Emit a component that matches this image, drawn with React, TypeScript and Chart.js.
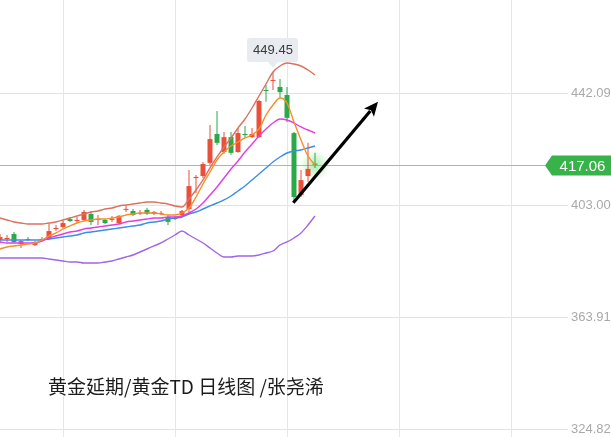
import React, { useEffect, useRef } from "react";
import { Chart, registerables } from "chart.js";

Chart.register(...registerables);

// ---- Candles (daily) ----
const opens = [390.8, 391.1, 392.9, 389.4, 391.1, 389.0, 391.1, 391.1, 394.6, 395.3,
  398.1, 397.4, 397.8, 399.9, 397.8, 397.8, 397.8, 396.7, 401.3, 400.9,
  399.9, 401.3, 399.9, 399.9, 398.8, 398.1, 399.5, 401.6, 412.4, 413.1,
  417.7, 427.8, 421.5, 426.7, 421.5, 427.8, 426.7, 426.7, 443.1, 446.3,
  444.2, 441.4, 428.1, 406.5, 413.1, 417.4];
const highs = [392.9, 392.5, 393.6, 390.8, 391.8, 390.4, 391.8, 396.4, 396.0, 397.4,
  398.8, 398.8, 401.3, 400.9, 399.5, 398.1, 399.2, 399.5, 402.7, 401.6,
  401.3, 402.0, 400.9, 400.9, 399.5, 399.2, 401.3, 415.2, 413.5, 418.0,
  430.9, 435.8, 428.5, 428.5, 429.9, 430.6, 429.9, 439.7, 444.9, 449.45,
  447.0, 444.2, 428.5, 415.2, 424.7, 421.2];
const lows = [390.1, 390.1, 389.7, 388.0, 390.4, 388.7, 390.4, 390.8, 393.9, 395.0,
  397.1, 396.7, 397.4, 396.0, 396.0, 396.4, 397.1, 396.4, 400.6, 399.2,
  399.5, 399.5, 399.5, 399.5, 396.0, 397.8, 399.2, 400.2, 407.2, 412.4,
  417.0, 423.9, 420.8, 420.5, 421.2, 426.4, 426.4, 426.4, 439.0, 443.1,
  440.4, 432.0, 404.05, 405.8, 411.0, 415.9];
const closes = [391.8, 391.5, 390.1, 390.4, 390.8, 390.1, 390.8, 393.9, 395.0, 396.7,
  397.4, 397.8, 400.6, 397.1, 398.1, 396.7, 398.1, 399.2, 401.6, 399.5,
  400.2, 399.9, 400.6, 400.2, 397.1, 398.5, 400.9, 409.6, 412.8, 417.3,
  426.0, 424.7, 426.7, 421.2, 428.1, 427.4, 427.8, 439.3, 442.8, 446.6,
  442.4, 433.4, 405.8, 411.7, 415.6, 417.06];

// ---- Indicator lines ----
const ma5 = [387.65, 388.35, 388.70, 389.04, 389.39, 389.74, 390.79, 392.19, 393.23, 394.63,
  395.68, 396.72, 397.42, 397.77, 398.12, 398.12, 398.47, 398.82, 399.51, 399.86,
  400.21, 400.21, 400.21, 399.86, 399.51, 399.51, 400.21, 401.96, 405.80, 410.33,
  414.52, 418.71, 421.50, 423.60, 424.99, 426.39, 427.43, 429.53, 434.42, 437.90,
  440.35, 438.60, 431.97, 425.69, 420.11, 416.96];
const ma10 = [390.09, 389.74, 389.74, 389.74, 389.74, 389.74, 390.44, 391.49, 392.19, 392.88,
  393.58, 393.93, 394.63, 394.98, 395.33, 395.68, 396.02, 396.37, 397.07, 397.42,
  397.77, 398.12, 398.47, 398.47, 398.82, 398.82, 399.17, 400.21, 401.61, 403.70,
  406.49, 409.29, 412.43, 415.57, 418.36, 421.50, 424.29, 427.09, 429.53, 431.62,
  433.02, 432.67, 431.62, 430.23, 429.18, 428.13];
const ma20 = [390.79, 390.79, 390.79, 390.79, 390.79, 390.79, 390.79, 391.14, 391.49, 391.84,
  392.19, 392.53, 393.23, 393.58, 393.93, 394.28, 394.63, 394.98, 395.33, 395.68,
  396.02, 396.72, 397.07, 397.42, 398.12, 398.47, 398.82, 399.86, 400.56, 401.61,
  402.66, 403.70, 404.75, 406.15, 407.89, 409.64, 411.73, 413.82, 415.92, 418.01,
  419.76, 421.15, 421.85, 422.20, 422.90, 423.60];
const bollUpper = [398.47, 397.77, 397.07, 396.72, 396.37, 396.37, 396.37, 396.72, 397.07, 397.77,
  398.47, 399.17, 399.86, 400.56, 400.91, 401.61, 401.96, 402.66, 403.00, 403.35,
  403.70, 404.05, 404.05, 403.70, 403.35, 402.66, 402.31, 405.10, 408.24, 411.73,
  415.92, 419.76, 423.25, 426.39, 429.88, 433.02, 436.86, 441.05, 445.23, 449.42,
  451.52, 452.56, 452.21, 451.52, 450.12, 448.38];
const bollLower = [384.51, 384.51, 384.51, 384.51, 384.51, 384.51, 384.51, 384.16, 383.81, 383.46,
  383.11, 383.11, 382.76, 382.76, 382.76, 383.11, 383.46, 384.16, 384.86, 385.56,
  386.60, 387.65, 388.70, 389.74, 391.14, 392.53, 393.93, 392.53, 391.14, 389.74,
  388.00, 386.25, 384.86, 384.86, 385.21, 385.21, 385.21, 385.56, 386.25, 386.95,
  389.04, 390.09, 391.49, 393.23, 396.02, 399.17];

// ---- Axes / annotations ----
const yTickValues = [324.82, 363.91, 403.0, 442.09];
const xGridIndices = [9, 25, 41, 57, 73];
const yRange = [322.03, 474.55];
const arrowStart = [41.9, 403.8];
const arrowEnd = [54.0, 439.0];
const titleText = "黄金延期/黄金TD 日线图 /张尧浠";

const UP = "#e8503a";
const DOWN = "#2ba84a";
const W = 611;
const H = 437;
const AXIS_W = 43;
const PX_PER_BAR = 7;

export default function App() {
  const ref = useRef<HTMLCanvasElement>(null);

  useEffect(() => {
    if (!ref.current) return;
    const idx = closes.map((_, i) => i);
    const colors = closes.map((c, i) => (c >= opens[i] ? UP : DOWN));

    const line = (vals: number[], color: string) => ({
      type: "line" as const,
      data: vals.map((v, i) => ({ x: i, y: v })),
      borderColor: color,
      borderWidth: 1.4,
      pointRadius: 0,
      cubicInterpolationMode: "monotone" as const,
      fill: false,
      order: 0,
    });

    const overlay = {
      id: "overlay",
      beforeDatasetsDraw(chart: any) {
        const { ctx, chartArea, scales } = chart;
        const x = scales.x, y = scales.y;
        const last = closes.length - 1;
        const py = Math.round(y.getPixelForValue(closes[last])) + 0.5;
        ctx.save();
        ctx.strokeStyle = "#86d186";
        ctx.lineWidth = 1;
        ctx.beginPath();
        ctx.moveTo(chartArea.left, py);
        ctx.lineTo(W - 66, py);
        ctx.stroke();
        const gx = x.getPixelForValue(last);
        const g = ctx.createRadialGradient(gx, py, 0, gx, py, 15);
        g.addColorStop(0, "rgba(90,220,90,0.5)");
        g.addColorStop(1, "rgba(90,220,90,0)");
        ctx.fillStyle = g;
        ctx.beginPath();
        ctx.arc(gx, py, 15, 0, Math.PI * 2);
        ctx.fill();
        ctx.restore();
      },
      afterDraw(chart: any) {
        const { ctx, scales } = chart;
        const x = scales.x, y = scales.y;
        const last = closes.length - 1;
        ctx.save();
        // price tag
        const py = Math.round(y.getPixelForValue(closes[last])) + 0.5;
        const tl = W - 66;
        const th = 20;
        ctx.fillStyle = "#37b34a";
        ctx.beginPath();
        ctx.moveTo(tl, py);
        ctx.lineTo(tl + 7, py - th / 2);
        ctx.lineTo(W, py - th / 2);
        ctx.lineTo(W, py + th / 2);
        ctx.lineTo(tl + 7, py + th / 2);
        ctx.closePath();
        ctx.fill();
        ctx.fillStyle = "#ffffff";
        ctx.font = '15px "Liberation Sans", Arial, sans-serif';
        ctx.textAlign = "center";
        ctx.textBaseline = "middle";
        ctx.fillText(closes[last].toFixed(2), (tl + 7 + W) / 2 + 1, py + 1);

        // high label
        const hi = Math.max(...highs);
        const hiIdx = highs.indexOf(hi);
        const hx = x.getPixelForValue(hiIdx);
        const hy = y.getPixelForValue(hi);
        const bw = 51, bh = 24;
        const bx = hx - bw / 2 - 0.5;
        const bb = hy - 10;
        const bt = bb - bh;
        ctx.fillStyle = "#e8ecf0";
        ctx.beginPath();
        const r = 3;
        ctx.moveTo(bx + r, bt);
        ctx.lineTo(bx + bw - r, bt);
        ctx.quadraticCurveTo(bx + bw, bt, bx + bw, bt + r);
        ctx.lineTo(bx + bw, bb - r);
        ctx.quadraticCurveTo(bx + bw, bb, bx + bw - r, bb);
        ctx.lineTo(hx + 5, bb);
        ctx.lineTo(hx, hy - 4);
        ctx.lineTo(hx - 5, bb);
        ctx.lineTo(bx + r, bb);
        ctx.quadraticCurveTo(bx, bb, bx, bb - r);
        ctx.lineTo(bx, bt + r);
        ctx.quadraticCurveTo(bx, bt, bx + r, bt);
        ctx.closePath();
        ctx.fill();
        ctx.fillStyle = "#3a3a3a";
        ctx.font = '13px "Liberation Sans", Arial, sans-serif';
        ctx.fillText(hi.toFixed(2), hx, (bt + bb) / 2 + 1);

        // arrow
        const sx = x.getPixelForValue(arrowStart[0]);
        const sy = y.getPixelForValue(arrowStart[1]);
        const ex = x.getPixelForValue(arrowEnd[0]);
        const ey = y.getPixelForValue(arrowEnd[1]);
        const ang = Math.atan2(ey - sy, ex - sx);
        const hl = 14, hw = 6.5;
        const bxc = ex - hl * Math.cos(ang);
        const byc = ey - hl * Math.sin(ang);
        ctx.strokeStyle = "#000";
        ctx.lineWidth = 3.2;
        ctx.lineCap = "butt";
        ctx.beginPath();
        ctx.moveTo(sx, sy);
        ctx.lineTo(bxc + 2 * Math.cos(ang), byc + 2 * Math.sin(ang));
        ctx.stroke();
        ctx.fillStyle = "#000";
        ctx.beginPath();
        ctx.moveTo(ex, ey);
        ctx.lineTo(bxc + hw * Math.sin(ang), byc - hw * Math.cos(ang));
        ctx.lineTo(bxc + 3 * Math.cos(ang), byc + 3 * Math.sin(ang));
        ctx.lineTo(bxc - hw * Math.sin(ang), byc + hw * Math.cos(ang));
        ctx.closePath();
        ctx.fill();
        ctx.restore();
      },
    };

    const chart = new Chart(ref.current, {
      type: "bar",
      data: {
        datasets: [
          line(ma5, "#f4902c"),
          line(ma10, "#e63ce0"),
          line(ma20, "#3b8ee6"),
          line(bollUpper, "#d9735e"),
          line(bollLower, "#a066e8"),
          {
            type: "bar",
            data: idx.map((i) => ({ x: i, y: [opens[i], closes[i]] })),
            backgroundColor: colors,
            barThickness: 5,
            grouped: false,
            minBarLength: 1,
            borderWidth: 0,
            inflateAmount: 0,
            order: 1,
          },
          {
            type: "bar",
            data: idx.map((i) => ({ x: i, y: [lows[i], highs[i]] })),
            backgroundColor: colors,
            barThickness: 1,
            grouped: false,
            borderWidth: 0,
            inflateAmount: 0,
            order: 2,
          },
        ] as any,
      },
      options: {
        animation: false,
        responsive: false,
        events: [],
        layout: { padding: 0 },
        plugins: { legend: { display: false }, tooltip: { enabled: false }, title: { display: false } },
        scales: {
          x: {
            type: "linear",
            min: 0,
            max: (W - AXIS_W) / PX_PER_BAR,
            offset: false,
            ticks: { display: false },
            grid: { color: "#e6e6e6", drawTicks: false, offset: false },
            border: { display: false },
            afterBuildTicks: (s: any) => {
              s.ticks = xGridIndices.map((v) => ({ value: v }));
            },
            afterFit: (s: any) => {
              s.height = 0;
              s.paddingLeft = 0;
              s.paddingRight = 0;
            },
          },
          y: {
            type: "linear",
            position: "right",
            min: yRange[0],
            max: yRange[1],
            grid: { color: "#e3e3e3", drawTicks: false },
            border: { display: false },
            ticks: {
              padding: 3,
              color: "#a9a9a9",
              font: { size: 13, family: '"Liberation Sans", Arial, sans-serif' },
              callback: (v: any) => Number(v).toFixed(2),
            },
            afterBuildTicks: (s: any) => {
              s.ticks = yTickValues.map((v) => ({ value: v }));
            },
            afterFit: (s: any) => {
              s.width = AXIS_W;
              s.paddingTop = 0;
              s.paddingBottom = 0;
            },
          },
        },
      } as any,
      plugins: [overlay],
    });
    return () => chart.destroy();
  }, []);

  return (
    <div style={{ position: "absolute", left: 0, top: 0, width: W, height: H, background: "#fff", overflow: "hidden" }}>
      <canvas ref={ref} width={W} height={H} style={{ display: "block" }} />
      <div
        style={{
          position: "absolute",
          left: 48,
          top: 376,
          fontFamily: '"Noto Sans CJK SC", sans-serif',
          fontSize: 19,
          lineHeight: "19px",
          color: "#1c1c1c",
          whiteSpace: "nowrap",
        }}
      >
        {titleText}
      </div>
    </div>
  );
}
